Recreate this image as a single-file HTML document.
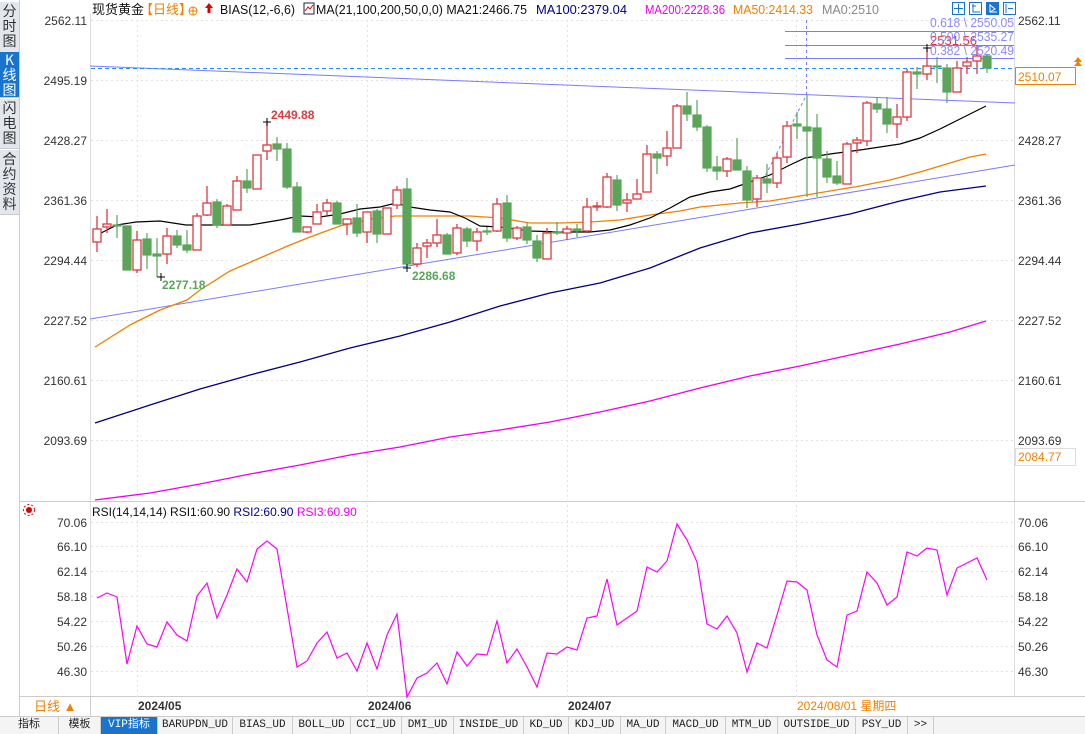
<!DOCTYPE html>
<html><head><meta charset="utf-8"><style>
html,body{margin:0;padding:0;background:#fff;}
body{width:1085px;height:733px;overflow:hidden;position:relative;font-family:"Liberation Sans","Noto Sans CJK SC",sans-serif;}
svg{position:absolute;left:0;top:0;}
.side{position:absolute;left:0;width:19px;background:#e3e6ec;color:#333;font-size:14px;line-height:15px;text-align:center;font-family:"Noto Sans CJK SC",sans-serif;border-bottom:1px solid #c8ccd4;}
.tabs{position:absolute;left:0;top:716px;height:17px;width:1085px;background:#f4f4f4;border-top:1px solid #ccc;font-size:11px;font-family:"Liberation Mono","Noto Sans CJK SC",monospace;}
.tabs span{position:absolute;top:0;height:17px;line-height:17px;border-right:1px solid #ccc;text-align:center;color:#222;}
</style></head><body>
<div class="side" style="top:2px;height:48px;padding-top:2px">分<br>时<br>图</div>
<div class="side" style="top:52px;height:44px;background:#1874cd;color:#fff;padding-top:1px">K<br>线<br>图</div>
<div class="side" style="top:99px;height:47px;padding-top:2px">闪<br>电<br>图</div>
<div class="side" style="top:150px;height:62px;padding-top:2px">合<br>约<br>资<br>料</div>

<svg width="1085" height="733" viewBox="0 0 1085 733" font-family="Liberation Sans, Noto Sans CJK SC, sans-serif">
<line x1="19.5" y1="0" x2="19.5" y2="716" stroke="#c8ccd4"/>
<line x1="90.5" y1="14" x2="90.5" y2="697" stroke="#ddd"/>
<line x1="1014.5" y1="14" x2="1014.5" y2="697" stroke="#ddd"/>
<line x1="20" y1="501.5" x2="1085" y2="501.5" stroke="#ccc"/>
<line x1="20" y1="696.5" x2="1085" y2="696.5" stroke="#ccc"/>
<g stroke="#e3e3e3" stroke-dasharray="2,3">
<line x1="91" y1="20.5" x2="1014" y2="20.5"/><line x1="91" y1="80.5" x2="1014" y2="80.5"/><line x1="91" y1="140.5" x2="1014" y2="140.5"/><line x1="91" y1="200.5" x2="1014" y2="200.5"/><line x1="91" y1="260.5" x2="1014" y2="260.5"/><line x1="91" y1="320.5" x2="1014" y2="320.5"/><line x1="91" y1="380.5" x2="1014" y2="380.5"/><line x1="91" y1="440.5" x2="1014" y2="440.5"/>
<line x1="91" y1="522.5" x2="1014" y2="522.5"/><line x1="91" y1="546.5" x2="1014" y2="546.5"/><line x1="91" y1="571.5" x2="1014" y2="571.5"/><line x1="91" y1="596.5" x2="1014" y2="596.5"/><line x1="91" y1="621.5" x2="1014" y2="621.5"/><line x1="91" y1="646.5" x2="1014" y2="646.5"/><line x1="91" y1="671.5" x2="1014" y2="671.5"/>
<line x1="137.5" y1="20" x2="137.5" y2="697"/><line x1="367.5" y1="20" x2="367.5" y2="697"/><line x1="567.5" y1="20" x2="567.5" y2="697"/><line x1="796.5" y1="20" x2="796.5" y2="697"/>
</g>
<g font-size="12" fill="#333" text-anchor="end">
<text x="87" y="25">2562.11</text><text x="87" y="85">2495.19</text><text x="87" y="145">2428.27</text><text x="87" y="205">2361.36</text><text x="87" y="265">2294.44</text><text x="87" y="325">2227.52</text><text x="87" y="385">2160.61</text><text x="87" y="445">2093.69</text>
<text x="87" y="527">70.06</text><text x="87" y="551">66.10</text><text x="87" y="576">62.14</text><text x="87" y="601">58.18</text><text x="87" y="626">54.22</text><text x="87" y="651">50.26</text><text x="87" y="676">46.30</text>
</g>
<g font-size="12" fill="#333">
<text x="1018" y="25">2562.11</text><text x="1018" y="145">2428.27</text><text x="1018" y="205">2361.36</text><text x="1018" y="265">2294.44</text><text x="1018" y="325">2227.52</text><text x="1018" y="385">2160.61</text><text x="1018" y="445">2093.69</text>
<text x="1018" y="527">70.06</text><text x="1018" y="551">66.10</text><text x="1018" y="576">62.14</text><text x="1018" y="601">58.18</text><text x="1018" y="626">54.22</text><text x="1018" y="651">50.26</text><text x="1018" y="676">46.30</text>
</g>
<rect x="1015.5" y="67.5" width="60" height="17" fill="#fff" stroke="#f08000"/>
<text x="1018" y="81" font-size="12" fill="#f08000">2510.07</text>
<path d="M1074 66 l4 -5 l4 5 z M1074 62 l4 -5 l4 5z" fill="#f08000"/>
<rect x="1015.5" y="448.5" width="60" height="17" fill="#fff" stroke="#ddd"/>
<text x="1018" y="461" font-size="12" fill="#f08000">2084.77</text>

<text x="92" y="14" font-size="13" fill="#111">现货黄金</text>
<text x="140" y="14" font-size="13" fill="#f08000">【日线】</text>
<circle cx="193" cy="11" r="4" fill="none" stroke="#f08000"/><path d="M189 11h8M193 7v8" stroke="#f08000"/>
<path d="M209 3l-4 5h2.5v5h3v-5h2.5z" fill="#d00"/>
<text x="220" y="14" font-size="13" fill="#111" textLength="75" lengthAdjust="spacingAndGlyphs">BIAS(12,-6,6)</text>
<rect x="304" y="3" width="10" height="11" fill="#fff" stroke="#224"/><path d="M305 11l3-4 2 2 3-4" stroke="#d00" fill="none"/>
<text x="316" y="14" font-size="13" fill="#111" textLength="211" lengthAdjust="spacingAndGlyphs">MA(21,100,200,50,0,0) MA21:2466.75</text>
<text x="536" y="14" font-size="13" fill="#00008b" textLength="91" lengthAdjust="spacingAndGlyphs">MA100:2379.04</text>
<text x="645" y="14" font-size="13" fill="#ee00ee" textLength="80" lengthAdjust="spacingAndGlyphs">MA200:2228.36</text>
<text x="733" y="14" font-size="13" fill="#f08000" textLength="80" lengthAdjust="spacingAndGlyphs">MA50:2414.33</text>
<text x="822" y="14" font-size="13" fill="#888" textLength="57" lengthAdjust="spacingAndGlyphs">MA0:2510</text>
<g fill="#fff" stroke="#1874cd"><rect x="952.5" y="2.5" width="12" height="12"/><rect x="969.5" y="2.5" width="12" height="12"/><rect x="986.5" y="2.5" width="12" height="12" fill="#1874cd"/><rect x="1003.5" y="2.5" width="12" height="12"/></g>
<path d="M958.5 4v9M954 8.5h9M973 4v8h7M972 6h4M1006 4v9M1008 8.5h5" stroke="#1874cd" fill="none"/>
<path d="M990 4v8h7M990 5l5 4-5 3" stroke="#fff" fill="none"/>

<line x1="90" y1="66" x2="1015" y2="103" stroke="#7b7bff"/>
<line x1="90" y1="319" x2="1015" y2="165" stroke="#7b7bff"/>
<line x1="91" y1="68.5" x2="1014" y2="68.5" stroke="#1e90ff" stroke-dasharray="4,3"/>
<g stroke="#7b7bff"><line x1="785" y1="31.5" x2="1014" y2="31.5"/><line x1="785" y1="45.5" x2="1014" y2="45.5"/><line x1="785" y1="58.5" x2="1014" y2="58.5"/></g>
<line x1="806.5" y1="20" x2="806.5" y2="98" stroke="#7b7bff" stroke-dasharray="3,3"/>
<line x1="752" y1="202" x2="806" y2="96" stroke="#7b7bff" stroke-dasharray="3,3"/>
<polyline fill="none" stroke="#ee00ee" stroke-width="1.3" points="95,500 150,493 200,484 250,474 300,465 350,455 400,447 450,437 500,430 550,422 600,412 650,401 700,388 750,376 800,366 850,355 900,344 950,332 986,321"/>
<polyline fill="none" stroke="#000080" stroke-width="1.3" points="95,423 150,405 200,389 250,375 300,362 350,348 400,336 450,322 500,306 550,293 600,283 650,268 700,248 750,233 800,224 850,214 900,201 940,192 986,186"/>
<polyline fill="none" stroke="#f08000" stroke-width="1.3" points="95,347 130,325 160,310 187,300 200,290 230,271 260,258 290,245 310,237 340,226 370,219 395,216 430,216 470,216 500,218 530,223 560,223 590,222 620,220 650,215 680,211 700,207 740,203 770,201 800,196 830,191 860,186 890,180 920,172 950,163 970,157 986,154"/>
<polyline fill="none" stroke="#000" stroke-width="1.2" points="97,235 117,225 136,222 160,221 186,225 220,225 250,225 280,220 300,216 320,217 340,214 360,209 380,207 396,203 410,207 430,210 450,212 465,218 480,226 500,227 530,231 560,232 590,232 610,230 630,225 650,218 670,208 690,197 710,192 730,189 750,182 770,175 790,165 805,158 830,154 860,150 880,147 900,144 920,138 940,129 960,119 986,106"/>

<g stroke="#5aa55a" fill="#5aa55a" stroke-width="1.2">
<line x1="117" y1="215" x2="117" y2="238"/><rect x="113" y="225" width="8" height="1"/>
<line x1="127" y1="226" x2="127" y2="270"/><rect x="123" y="226" width="8" height="44"/>
<line x1="147" y1="233" x2="147" y2="269"/><rect x="143" y="239" width="8" height="16"/>
<line x1="157" y1="238" x2="157" y2="277"/><rect x="153" y="254" width="8" height="2"/>
<line x1="177" y1="230" x2="177" y2="248"/><rect x="173" y="236" width="8" height="9"/>
<line x1="187" y1="230" x2="187" y2="253"/><rect x="183" y="245" width="8" height="5"/>
<line x1="217" y1="199" x2="217" y2="228"/><rect x="213" y="202" width="8" height="23"/>
<line x1="247" y1="169" x2="247" y2="193"/><rect x="243" y="181" width="8" height="7"/>
<line x1="277" y1="137" x2="277" y2="161"/><rect x="273" y="144" width="8" height="5"/>
<line x1="287" y1="143" x2="287" y2="189"/><rect x="283" y="149" width="8" height="38"/>
<line x1="297" y1="182" x2="297" y2="232"/><rect x="293" y="187" width="8" height="45"/>
<line x1="337" y1="201" x2="337" y2="224"/><rect x="333" y="203" width="8" height="21"/>
<line x1="357" y1="204" x2="357" y2="237"/><rect x="353" y="218" width="8" height="15"/>
<line x1="377" y1="209" x2="377" y2="243"/><rect x="373" y="211" width="8" height="23"/>
<line x1="407" y1="178" x2="407" y2="268"/><rect x="403" y="189" width="8" height="75"/>
<line x1="447" y1="233" x2="447" y2="254"/><rect x="443" y="235" width="8" height="19"/>
<line x1="467" y1="227" x2="467" y2="247"/><rect x="463" y="229" width="8" height="12"/>
<line x1="487" y1="227" x2="487" y2="235"/><rect x="483" y="231" width="8" height="1"/>
<line x1="507" y1="195" x2="507" y2="242"/><rect x="503" y="203" width="8" height="35"/>
<line x1="527" y1="223" x2="527" y2="244"/><rect x="523" y="227" width="8" height="13"/>
<line x1="537" y1="235" x2="537" y2="262"/><rect x="533" y="241" width="8" height="17"/>
<line x1="557" y1="222" x2="557" y2="235"/><rect x="553" y="232" width="8" height="1"/>
<line x1="577" y1="224" x2="577" y2="237"/><rect x="573" y="229" width="8" height="2"/>
<line x1="617" y1="175" x2="617" y2="211"/><rect x="613" y="180" width="8" height="25"/>
<line x1="657" y1="151" x2="657" y2="174"/><rect x="653" y="154" width="8" height="4"/>
<line x1="687" y1="92" x2="687" y2="121"/><rect x="683" y="106" width="8" height="8"/>
<line x1="697" y1="100" x2="697" y2="131"/><rect x="693" y="115" width="8" height="12"/>
<line x1="707" y1="125" x2="707" y2="172"/><rect x="703" y="127" width="8" height="41"/>
<line x1="717" y1="156" x2="717" y2="180"/><rect x="713" y="167" width="8" height="4"/>
<line x1="737" y1="138" x2="737" y2="170"/><rect x="733" y="160" width="8" height="10"/>
<line x1="747" y1="166" x2="747" y2="208"/><rect x="743" y="171" width="8" height="29"/>
<line x1="767" y1="164" x2="767" y2="193"/><rect x="763" y="179" width="8" height="4"/>
<line x1="797" y1="112" x2="797" y2="139"/><rect x="793" y="124" width="8" height="2"/>
<line x1="807" y1="95" x2="807" y2="197"/><rect x="803" y="127" width="8" height="4"/>
<line x1="817" y1="114" x2="817" y2="197"/><rect x="813" y="128" width="8" height="30"/>
<line x1="827" y1="151" x2="827" y2="183"/><rect x="823" y="159" width="8" height="18"/>
<line x1="837" y1="161" x2="837" y2="185"/><rect x="833" y="176" width="8" height="7"/>
<line x1="877" y1="97" x2="877" y2="113"/><rect x="873" y="104" width="8" height="5"/>
<line x1="887" y1="97" x2="887" y2="133"/><rect x="883" y="109" width="8" height="15"/>
<line x1="917" y1="67" x2="917" y2="89"/><rect x="913" y="72" width="8" height="2"/>
<line x1="937" y1="57" x2="937" y2="83"/><rect x="933" y="66" width="8" height="1"/>
<line x1="947" y1="64" x2="947" y2="103"/><rect x="943" y="68" width="8" height="24"/>
<line x1="987" y1="54" x2="987" y2="73"/><rect x="983" y="56" width="8" height="12"/>
</g>
<g stroke="#e0393e" fill="#fff" stroke-width="1.3">
<line x1="97" y1="216" x2="97" y2="252"/><rect x="93" y="229" width="8" height="13"/>
<line x1="107" y1="209" x2="107" y2="233"/><rect x="103" y="224" width="8" height="3"/>
<line x1="137" y1="231" x2="137" y2="273"/><rect x="133" y="240" width="8" height="30"/>
<line x1="167" y1="228" x2="167" y2="264"/><rect x="163" y="236" width="8" height="18"/>
<line x1="197" y1="213" x2="197" y2="250"/><rect x="193" y="216" width="8" height="34"/>
<line x1="207" y1="186" x2="207" y2="216"/><rect x="203" y="203" width="8" height="12"/>
<line x1="227" y1="204" x2="227" y2="225"/><rect x="223" y="206" width="8" height="19"/>
<line x1="237" y1="176" x2="237" y2="210"/><rect x="233" y="181" width="8" height="29"/>
<line x1="257" y1="155" x2="257" y2="189"/><rect x="253" y="155" width="8" height="34"/>
<line x1="267" y1="122" x2="267" y2="160"/><rect x="263" y="145" width="8" height="6"/>
<line x1="307" y1="227" x2="307" y2="233"/><rect x="303" y="227" width="8" height="5"/>
<line x1="317" y1="204" x2="317" y2="224"/><rect x="313" y="212" width="8" height="12"/>
<line x1="327" y1="199" x2="327" y2="215"/><rect x="323" y="203" width="8" height="8"/>
<line x1="347" y1="219" x2="347" y2="235"/><rect x="343" y="219" width="8" height="5"/>
<line x1="367" y1="212" x2="367" y2="243"/><rect x="363" y="212" width="8" height="20"/>
<line x1="387" y1="208" x2="387" y2="234"/><rect x="383" y="208" width="8" height="26"/>
<line x1="397" y1="186" x2="397" y2="209"/><rect x="393" y="190" width="8" height="15"/>
<line x1="417" y1="243" x2="417" y2="267"/><rect x="413" y="248" width="8" height="16"/>
<line x1="427" y1="239" x2="427" y2="258"/><rect x="423" y="243" width="8" height="3"/>
<line x1="437" y1="219" x2="437" y2="247"/><rect x="433" y="235" width="8" height="8"/>
<line x1="457" y1="224" x2="457" y2="255"/><rect x="453" y="228" width="8" height="25"/>
<line x1="477" y1="228" x2="477" y2="251"/><rect x="473" y="232" width="8" height="9"/>
<line x1="497" y1="198" x2="497" y2="232"/><rect x="493" y="204" width="8" height="27"/>
<line x1="517" y1="226" x2="517" y2="240"/><rect x="513" y="228" width="8" height="10"/>
<line x1="547" y1="228" x2="547" y2="259"/><rect x="543" y="233" width="8" height="26"/>
<line x1="567" y1="226" x2="567" y2="240"/><rect x="563" y="229" width="8" height="4"/>
<line x1="587" y1="198" x2="587" y2="232"/><rect x="583" y="207" width="8" height="24"/>
<line x1="597" y1="202" x2="597" y2="211"/><rect x="593" y="206" width="8" height="1" fill="#e0393e"/>
<line x1="607" y1="173" x2="607" y2="208"/><rect x="603" y="177" width="8" height="30"/>
<line x1="627" y1="193" x2="627" y2="212"/><rect x="623" y="200" width="8" height="3"/>
<line x1="637" y1="179" x2="637" y2="199"/><rect x="633" y="194" width="8" height="5"/>
<line x1="647" y1="145" x2="647" y2="192"/><rect x="643" y="154" width="8" height="38"/>
<line x1="667" y1="131" x2="667" y2="166"/><rect x="663" y="148" width="8" height="8"/>
<line x1="677" y1="104" x2="677" y2="148"/><rect x="673" y="106" width="8" height="42"/>
<line x1="727" y1="157" x2="727" y2="177"/><rect x="723" y="159" width="8" height="12"/>
<line x1="757" y1="175" x2="757" y2="207"/><rect x="753" y="178" width="8" height="21"/>
<line x1="777" y1="153" x2="777" y2="188"/><rect x="773" y="158" width="8" height="25"/>
<line x1="787" y1="121" x2="787" y2="163"/><rect x="783" y="126" width="8" height="31"/>
<line x1="847" y1="142" x2="847" y2="184"/><rect x="843" y="144" width="8" height="40"/>
<line x1="857" y1="137" x2="857" y2="153"/><rect x="853" y="140" width="8" height="3"/>
<line x1="867" y1="101" x2="867" y2="146"/><rect x="863" y="103" width="8" height="38"/>
<line x1="897" y1="104" x2="897" y2="138"/><rect x="893" y="117" width="8" height="7"/>
<line x1="907" y1="69" x2="907" y2="121"/><rect x="903" y="72" width="8" height="45"/>
<line x1="927" y1="48" x2="927" y2="80"/><rect x="923" y="66" width="8" height="8"/>
<line x1="957" y1="61" x2="957" y2="92"/><rect x="953" y="68" width="8" height="24"/>
<line x1="967" y1="57" x2="967" y2="74"/><rect x="963" y="62" width="8" height="4"/>
<line x1="977" y1="45" x2="977" y2="74"/><rect x="973" y="56" width="8" height="5"/>
</g>
<path d="M263 122h8M157 277h8M403 268h8M923 48h8M267 118v8M161 273v8M407 264v8M927 44v8" stroke="#000"/>
<text x="271" y="119" font-size="12" font-weight="bold" fill="#e0393e">2449.88</text>
<text x="162" y="289" font-size="12" font-weight="bold" fill="#5aa55a">2277.18</text>
<text x="412" y="280" font-size="12" font-weight="bold" fill="#5aa55a">2286.68</text>
<text x="930" y="45" font-size="13" fill="#e0393e">2531.56</text>
<g font-size="13" fill="#8a8aff"><text x="930" y="27" textLength="84" lengthAdjust="spacingAndGlyphs">0.618 \ 2550.05</text><text x="930" y="41" textLength="84" lengthAdjust="spacingAndGlyphs">0.500 \ 2535.27</text><text x="930" y="55" textLength="84" lengthAdjust="spacingAndGlyphs">0.382 \ 2520.49</text></g>

<circle cx="29" cy="510" r="3" fill="#d00"/><circle cx="29" cy="510" r="5.5" fill="none" stroke="#d00" stroke-dasharray="2,2"/>
<text x="92" y="516" font-size="12" fill="#111">RSI(14,14,14) RSI1:60.90 <tspan fill="#00008b">RSI2:60.90</tspan> <tspan fill="#ee00ee">RSI3:60.90</tspan></text>
<polyline fill="none" stroke="#ff00ff" stroke-width="1.2" points="97,598 107,593 117,597 127,664 137,626 147,644 157,647 167,622 177,635 187,641 197,596 207,583 217,618 227,595 237,569 247,582 257,549 267,541 277,549 287,608 297,667 307,661 317,643 327,632 337,658 347,653 357,671 367,643 377,669 387,635 397,614 407,697 417,678 427,673 437,663 447,684 457,652 467,666 477,654 487,655 497,621 507,663 517,649 527,667 537,687 547,653 557,654 567,647 577,650 587,618 597,616 607,579 617,625 627,618 637,611 647,567 657,572 667,561 677,524 687,540 697,562 707,624 717,629 727,616 737,633 747,672 757,643 767,648 777,615 787,581 797,582 807,590 817,635 827,660 837,667 847,615 857,611 867,572 877,583 887,605 897,597 907,552 917,556 927,548 937,550 947,595 957,568 967,563 977,558 987,580"/>

<line x1="90.5" y1="697" x2="90.5" y2="716" stroke="#ccc"/>
<text x="34" y="711" font-size="13" fill="#f08000">日线 ▲</text>
<g font-size="12" font-weight="bold" fill="#333"><text x="138" y="710">2024/05</text><text x="368" y="710">2024/06</text><text x="568" y="710">2024/07</text></g>
<text x="797" y="710" font-size="12" fill="#f08000">2024/08/01 星期四</text>
</svg>
<div class="tabs">
<span style="left:0;width:58px">指标</span><span style="left:59px;width:41px">模板</span><span style="left:101px;width:56px;background:#1874cd;color:#fff">VIP指标</span><span style="left:158px;width:74px">BARUPDN_UD</span><span style="left:233px;width:59px">BIAS_UD</span><span style="left:293px;width:57px">BOLL_UD</span><span style="left:351px;width:50px">CCI_UD</span><span style="left:402px;width:51px">DMI_UD</span><span style="left:454px;width:69px">INSIDE_UD</span><span style="left:524px;width:44px">KD_UD</span><span style="left:569px;width:51px">KDJ_UD</span><span style="left:621px;width:44px">MA_UD</span><span style="left:666px;width:59px">MACD_UD</span><span style="left:726px;width:51px">MTM_UD</span><span style="left:778px;width:77px">OUTSIDE_UD</span><span style="left:856px;width:51px">PSY_UD</span><span style="left:908px;width:25px">&gt;&gt;</span>
</div>
</body></html>
